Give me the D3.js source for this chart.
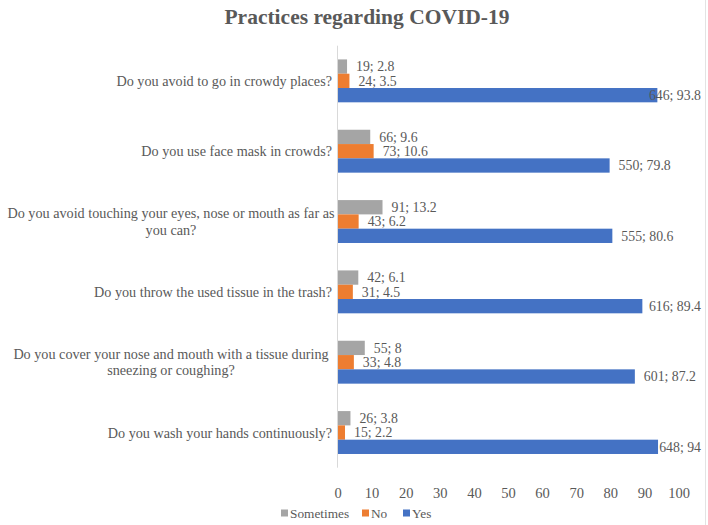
<!DOCTYPE html>
<meta charset="utf-8">
<style>
    body { margin: 0; background: #fff; }
    text { font-family: "Liberation Serif", "Times New Roman", serif; fill: #595959; }
</style>
<body>
<script src="https://cdn.jsdelivr.net/npm/d3@7"></script>
<script>
    var width = 708,
        height = 525

    var questions = [
        "Do you avoid to go in crowdy places?",
        "Do you use face mask in crowds?",
        "Do you avoid touching your eyes, nose or mouth as far as|you can?",
        "Do you throw the used tissue in the trash?",
        "Do you cover your nose and mouth with a tissue during|sneezing or coughing?",
        "Do you wash your hands continuously?"
    ]
    var seriesNames = ["Sometimes", "No", "Yes"]
    var sometimesPct = [2.8, 9.6, 13.2, 6.1, 8, 3.8]
    var sometimesN = [19, 66, 91, 42, 55, 26]
    var noPct = [3.5, 10.6, 6.2, 4.5, 4.8, 2.2]
    var noN = [24, 73, 43, 31, 33, 15]
    var yesPct = [93.8, 79.8, 80.6, 89.4, 87.2, 94]
    var yesN = [646, 550, 555, 616, 601, 648]
    var xTicks = [0, 10, 20, 30, 40, 50, 60, 70, 80, 90, 100]

    var colors = { "Sometimes": "#a5a5a5", "No": "#ed7d31", "Yes": "#4472c4" }

    var rows = []
    questions.forEach(function (q, i) {
        rows.push({ q: q, s: "Sometimes", pct: sometimesPct[i], n: sometimesN[i] })
        rows.push({ q: q, s: "No", pct: noPct[i], n: noN[i] })
        rows.push({ q: q, s: "Yes", pct: yesPct[i], n: yesN[i] })
    })

    var svg = d3.select("body").append("svg")
        .attr("width", width)
        .attr("height", height)

    var x = d3.scaleLinear().domain([0, 100]).range([337.5, 678.5])
    var y = d3.scaleBand().domain(questions).range([45.7, 467.7])
        .paddingInner(0.39).paddingOuter(0.195)
    var y1 = d3.scaleBand().domain(seriesNames).range([0, y.bandwidth()])

    // chart frame edge on the right
    svg.append("line")
        .attr("x1", 705.5).attr("x2", 705.5)
        .attr("y1", 0).attr("y2", height)
        .attr("stroke", "#e3e3e3")

    svg.append("text")
        .attr("x", 367)
        .attr("y", 24)
        .attr("text-anchor", "middle")
        .style("font-size", "21.5px")
        .style("font-weight", "bold")
        .text("Practices regarding COVID-19")

    // bars
    svg.selectAll(".bar")
        .data(rows)
        .enter().append("rect")
        .attr("class", "bar")
        .attr("x", x(0))
        .attr("y", function (d) { return y(d.q) + y1(d.s) })
        .attr("width", function (d) { return x(d.pct) - x(0) })
        .attr("height", y1.bandwidth())
        .attr("fill", function (d) { return colors[d.s] })

    // value labels, kept inside the chart area
    svg.selectAll(".lbl")
        .data(rows)
        .enter().append("text")
        .attr("class", "lbl")
        .attr("y", function (d) { return y(d.q) + y1(d.s) + y1.bandwidth() / 2 })
        .attr("dy", "0.35em")
        .style("font-size", "13.8px")
        .text(function (d) { return d.n + "; " + d.pct })
        .attr("x", function (d) {
            var w = this.getComputedTextLength()
            return Math.min(x(d.pct) + 9, 701 - w)
        })

    // axis line at zero
    svg.append("line")
        .attr("x1", x(0)).attr("x2", x(0))
        .attr("y1", 45.7).attr("y2", 467.7)
        .attr("stroke", "#d9d9d9")

    var xAxis = svg.append("g")
        .attr("transform", "translate(0,467.7)")
        .call(d3.axisBottom(x).tickValues(xTicks).tickSize(0).tickPadding(20))
    xAxis.select(".domain").remove()
    xAxis.selectAll("text")
        .style("font-family", "Liberation Serif, serif")
        .style("font-size", "14.5px")
        .attr("fill", "#595959")

    // category labels
    svg.selectAll(".cat")
        .data(questions)
        .enter().append("text")
        .attr("class", "cat")
        .style("font-size", "14.2px")
        .each(function (q) {
            var lines = q.split("|")
            var t = d3.select(this)
            var cy = y(q) + y.bandwidth() / 2
            if (lines.length == 1) {
                t.attr("text-anchor", "end").attr("x", 332).attr("y", cy).attr("dy", "0.35em").text(q)
            } else {
                t.attr("text-anchor", "middle")
                lines.forEach(function (l, k) {
                    t.append("tspan")
                        .attr("x", 171)
                        .attr("y", cy + (k - 0.5) * 16.5)
                        .attr("dy", "0.35em")
                        .text(l)
                })
            }
        })

    // legend
    var legend = svg.append("g").attr("transform", "translate(281,513)")
    var lx = [0, 81, 122]
    seriesNames.forEach(function (s, i) {
        var g = legend.append("g").attr("transform", "translate(" + lx[i] + ",0)")
        g.append("rect").attr("x", 0).attr("y", -3.5).attr("width", 7).attr("height", 7)
            .attr("fill", colors[s])
        g.append("text").attr("x", 9).attr("dy", "0.35em")
            .style("font-size", "13.3px").text(s)
    })
</script>
</body>
